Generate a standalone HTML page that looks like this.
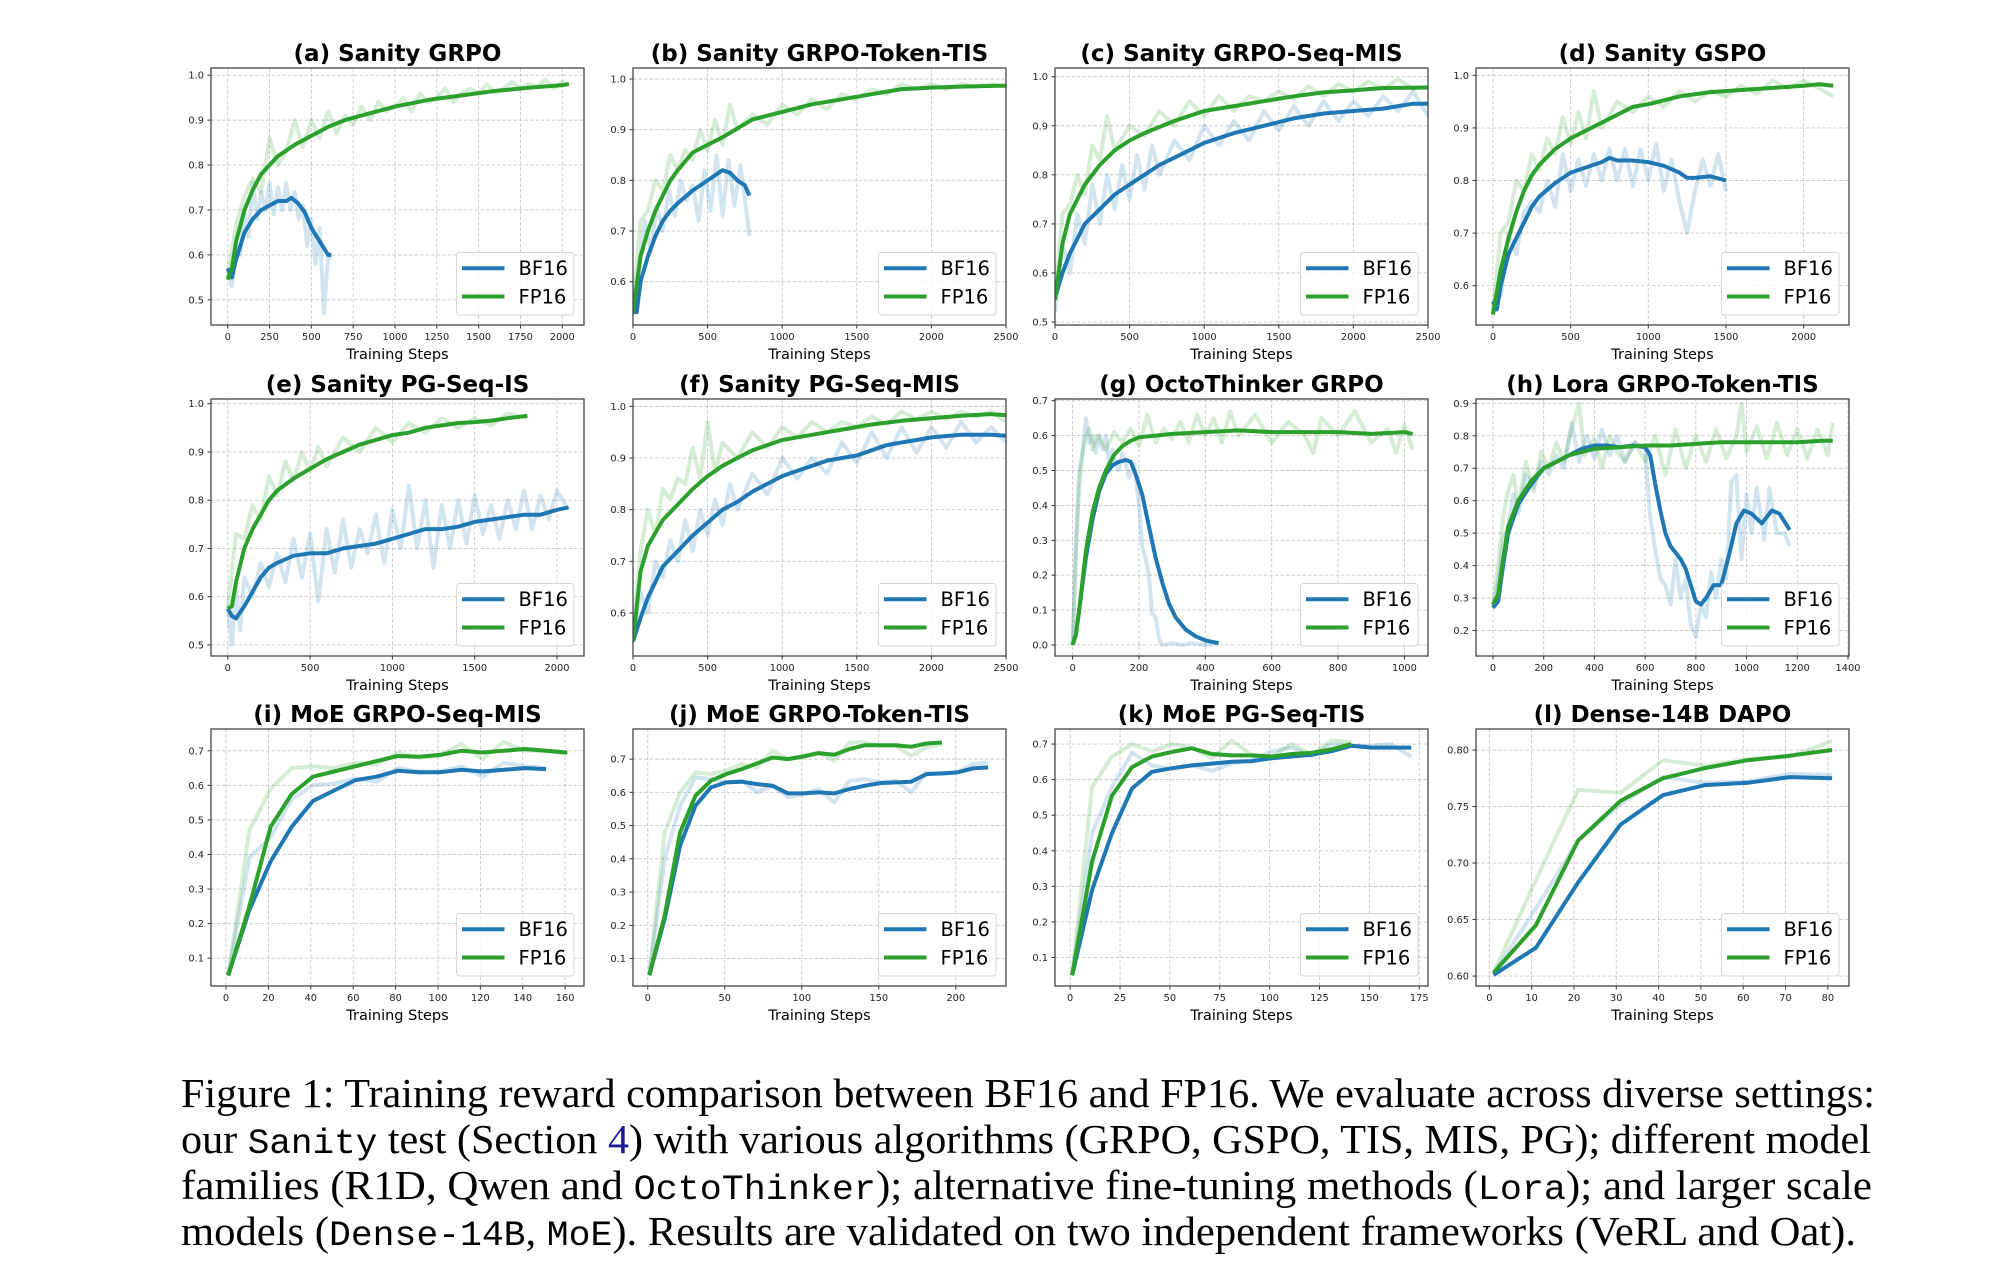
<!DOCTYPE html>
<html><head><meta charset="utf-8"><style>
html,body{margin:0;padding:0;background:#fff;}
svg{display:block;}
</style></head><body>
<svg id="fig" width="2014" height="1276" viewBox="0 0 2014 1276" xmlns="http://www.w3.org/2000/svg">
<g id="charts"></g>
<g id="caption" font-family="'Liberation Serif', serif" font-size="41" fill="#000">
<text x="181" y="1107" textLength="1694" lengthAdjust="spacingAndGlyphs">Figure 1: Training reward comparison between BF16 and FP16. We evaluate across diverse settings:</text>
<text x="181" y="1153" textLength="1690" lengthAdjust="spacingAndGlyphs">our <tspan font-family="'Liberation Mono', monospace" font-size="35">Sanity</tspan> test (Section <tspan fill="#1a1a99">4</tspan>) with various algorithms (GRPO, GSPO, TIS, MIS, PG); different model</text>
<text x="181" y="1199" textLength="1691" lengthAdjust="spacingAndGlyphs">families (R1D, Qwen and <tspan font-family="'Liberation Mono', monospace" font-size="35">OctoThinker</tspan>); alternative fine-tuning methods (<tspan font-family="'Liberation Mono', monospace" font-size="35">Lora</tspan>); and larger scale</text>
<text x="181" y="1245" textLength="1675" lengthAdjust="spacingAndGlyphs">models (<tspan font-family="'Liberation Mono', monospace" font-size="35">Dense-14B</tspan>, <tspan font-family="'Liberation Mono', monospace" font-size="35">MoE</tspan>). Results are validated on two independent frameworks (VeRL and Oat).</text>
</g>
</svg>
<script>
// ---------- DATA ----------
const a_bf_x=[0,25,50,100,150,200,250,300,350,380,420,460,500,550,600,620];
const a_bf_y=[.57,.55,.59,.65,.68,.70,.71,.72,.72,.727,.715,.695,.66,.63,.60,.60];
const a_bfr_x=[0,25,50,75,100,125,150,175,200,225,250,275,300,325,350,375,400,425,450,475,500,525,550,575,600,615];
const a_bfr_y=[.57,.53,.62,.60,.70,.64,.76,.68,.74,.70,.76,.69,.75,.70,.76,.70,.74,.68,.71,.62,.68,.58,.66,.47,.60,.59];
const a_fp_x=[0,25,50,100,150,200,250,300,400,500,600,700,800,900,1000,1200,1400,1600,1800,2000,2040];
const a_fp_y=[.545,.57,.63,.70,.745,.78,.80,.82,.845,.865,.885,.90,.91,.92,.93,.945,.955,.965,.972,.978,.98];
const a_fpr_x=[0,50,100,150,200,250,300,350,400,450,500,550,600,650,700,750,800,850,900,950,1000,1050,1100,1150,1200,1250,1300,1350,1400,1450,1500,1550,1600,1650,1700,1750,1800,1850,1900,1950,2000,2040];
const a_fpr_y=[.55,.67,.73,.77,.74,.86,.80,.83,.90,.84,.90,.86,.92,.87,.91,.89,.93,.90,.94,.92,.93,.95,.92,.96,.94,.95,.97,.94,.96,.97,.96,.98,.96,.97,.985,.97,.98,.975,.99,.97,.985,.98];

const b_bf_x=[0,25,50,100,150,200,250,300,400,500,600,650,700,750,780];
const b_bf_y=[.54,.54,.60,.65,.69,.72,.74,.755,.78,.80,.82,.815,.80,.79,.77];
const b_bfr_x=[0,40,80,120,160,200,240,280,320,360,400,440,480,520,560,600,640,680,720,760,780];
const b_bfr_y=[.55,.62,.72,.66,.75,.70,.78,.73,.80,.76,.79,.72,.82,.74,.85,.73,.84,.75,.83,.74,.69];
const b_fp_x=[0,50,100,150,200,250,300,400,500,600,800,1000,1200,1400,1600,1800,2000,2200,2500];
const b_fp_y=[.54,.65,.70,.74,.77,.80,.82,.855,.87,.885,.92,.935,.95,.96,.97,.98,.983,.985,.987];
const b_fpr_x=[0,50,100,150,200,250,300,350,400,450,500,550,600,650,700,800,900,1000,1100,1200,1300,1400,1500,1600,1700,1800,1900,2000,2100,2200,2300,2400,2500];
const b_fpr_y=[.55,.72,.74,.80,.78,.85,.82,.86,.84,.90,.86,.92,.87,.95,.90,.93,.91,.95,.93,.96,.94,.97,.96,.98,.97,.99,.98,.99,.98,.99,.985,.99,.985];

const c_bf_x=[0,50,100,150,200,300,400,500,600,700,800,900,1000,1200,1400,1600,1800,2000,2200,2400,2500];
const c_bf_y=[.55,.60,.64,.67,.70,.73,.76,.78,.80,.82,.835,.85,.865,.885,.90,.915,.925,.93,.935,.945,.945];
const c_bfr_x=[0,50,100,150,200,250,300,350,400,450,500,550,600,650,700,800,900,1000,1100,1200,1300,1400,1500,1600,1700,1800,1900,2000,2100,2200,2300,2400,2500];
const c_bfr_y=[.52,.66,.60,.72,.66,.78,.70,.80,.73,.82,.75,.84,.77,.86,.80,.87,.83,.90,.86,.91,.87,.93,.89,.94,.90,.95,.91,.95,.92,.96,.93,.97,.92];
const c_fp_x=[0,50,100,200,300,400,500,600,800,1000,1200,1400,1600,1800,2000,2200,2500];
const c_fp_y=[.545,.66,.72,.78,.82,.85,.87,.885,.91,.93,.94,.95,.96,.968,.972,.977,.978];
const c_fpr_x=[0,50,100,150,200,250,300,350,400,500,600,700,800,900,1000,1100,1200,1300,1400,1500,1600,1700,1800,1900,2000,2100,2200,2300,2400,2500];
const c_fpr_y=[.55,.72,.74,.80,.76,.86,.83,.92,.85,.90,.88,.93,.90,.95,.92,.96,.93,.96,.95,.97,.955,.98,.96,.985,.97,.99,.975,.995,.975,.98];

const d_bf_x=[0,25,50,100,150,200,250,300,400,500,600,700,750,800,900,1000,1100,1200,1250,1300,1400,1500];
const d_bf_y=[.57,.555,.60,.66,.69,.72,.75,.77,.795,.815,.825,.835,.843,.838,.838,.835,.828,.815,.805,.805,.808,.80];
const d_bfr_x=[0,50,100,150,200,250,300,350,400,450,500,550,600,650,700,750,800,850,900,950,1000,1050,1100,1150,1200,1250,1300,1350,1400,1450,1500];
const d_bfr_y=[.57,.58,.70,.66,.74,.76,.74,.80,.75,.85,.78,.84,.79,.85,.80,.86,.80,.86,.79,.86,.80,.87,.78,.84,.76,.70,.78,.84,.79,.85,.78];
const d_fp_x=[0,50,100,150,200,250,300,400,500,600,700,800,900,1000,1200,1400,1600,1800,2000,2100,2190];
const d_fp_y=[.545,.63,.69,.74,.78,.81,.83,.86,.88,.895,.91,.925,.94,.945,.96,.968,.972,.976,.98,.983,.98];
const d_fpr_x=[0,50,100,150,200,250,300,350,400,450,500,550,600,650,700,800,900,1000,1100,1200,1300,1400,1500,1600,1700,1800,1900,2000,2100,2190];
const d_fpr_y=[.55,.70,.72,.80,.78,.85,.82,.88,.85,.92,.87,.93,.88,.97,.90,.95,.93,.96,.94,.97,.95,.97,.96,.98,.965,.99,.975,.99,.975,.96];

const e_bf_x=[0,25,50,100,150,200,250,300,400,500,600,700,800,900,1000,1100,1200,1300,1400,1500,1600,1700,1800,1900,2000,2070];
const e_bf_y=[.575,.56,.555,.58,.61,.64,.66,.67,.685,.69,.69,.70,.705,.71,.72,.73,.74,.74,.745,.755,.76,.765,.77,.77,.78,.785];
const e_bfr_x=[0,25,50,75,100,150,200,250,300,350,400,450,500,550,600,650,700,750,800,850,900,950,1000,1050,1100,1150,1200,1250,1300,1350,1400,1450,1500,1550,1600,1650,1700,1750,1800,1850,1900,1950,2000,2070];
const e_bfr_y=[.58,.50,.62,.53,.64,.60,.67,.62,.69,.63,.72,.64,.73,.59,.74,.65,.76,.66,.74,.69,.77,.67,.78,.70,.83,.70,.80,.66,.79,.70,.80,.71,.81,.73,.79,.72,.80,.74,.82,.74,.81,.76,.82,.78];
const e_fp_x=[0,25,50,100,150,200,250,300,400,500,600,700,800,900,1000,1100,1200,1300,1400,1500,1600,1700,1820];
const e_fp_y=[.575,.58,.63,.70,.74,.77,.80,.82,.845,.865,.885,.90,.915,.925,.935,.94,.95,.955,.96,.962,.965,.97,.975];
const e_fpr_x=[0,50,100,150,200,250,300,350,400,450,500,550,600,700,800,900,1000,1100,1200,1300,1400,1500,1600,1700,1820];
const e_fpr_y=[.58,.73,.72,.79,.76,.85,.81,.88,.84,.90,.86,.91,.87,.93,.90,.95,.92,.96,.94,.97,.95,.97,.955,.98,.97];

const f_bf_x=[0,50,100,150,200,300,400,500,600,700,800,900,1000,1100,1200,1300,1400,1500,1600,1700,1800,1900,2000,2200,2400,2500];
const f_bf_y=[.545,.59,.63,.66,.69,.72,.75,.775,.80,.815,.835,.85,.865,.875,.885,.895,.90,.905,.915,.925,.93,.935,.94,.945,.945,.943];
const f_bfr_x=[0,50,100,150,200,250,300,350,400,450,500,550,600,650,700,800,900,1000,1100,1200,1300,1400,1500,1600,1700,1800,1900,2000,2100,2200,2300,2400,2500];
const f_bfr_y=[.55,.64,.60,.70,.67,.74,.70,.78,.72,.80,.75,.82,.77,.85,.80,.87,.83,.90,.86,.90,.87,.93,.89,.95,.90,.96,.91,.96,.92,.97,.93,.96,.93];
const f_fp_x=[0,50,100,200,300,400,500,600,700,800,900,1000,1200,1400,1600,1800,2000,2200,2400,2500];
const f_fp_y=[.545,.68,.73,.78,.81,.84,.865,.885,.90,.915,.925,.935,.945,.955,.965,.972,.977,.982,.985,.983];
const f_fpr_x=[0,50,100,150,200,250,300,350,400,450,500,550,600,700,800,900,1000,1100,1200,1300,1400,1500,1600,1700,1800,1900,2000,2100,2200,2300,2400,2500];
const f_fpr_y=[.56,.72,.80,.75,.84,.82,.86,.85,.92,.86,.97,.87,.93,.90,.95,.92,.96,.94,.97,.95,.97,.96,.98,.965,.99,.975,.99,.975,.99,.98,.99,.97];

const g_bf_x=[0,10,20,40,60,80,100,120,140,160,175,190,210,230,250,270,290,310,340,370,400,440];
const g_bf_y=[0,.03,.10,.25,.36,.44,.49,.515,.525,.53,.525,.49,.43,.34,.25,.18,.12,.08,.045,.025,.013,.005];
const g_bfr_x=[0,10,20,30,40,50,60,70,80,90,100,110,120,130,140,150,160,170,185,200,210,220,230,240,250,260,270,300,330,360,400,440];
const g_bfr_y=[0,.3,.5,.55,.65,.58,.60,.55,.60,.56,.60,.52,.56,.52,.50,.55,.52,.48,.52,.40,.28,.25,.20,.09,.08,.02,0,.005,0,.005,0,.005];
const g_fp_x=[0,10,20,40,60,80,100,125,150,175,200,250,300,400,500,600,700,800,900,1000,1025];
const g_fp_y=[0,.03,.10,.27,.38,.45,.50,.545,.57,.585,.595,.60,.605,.61,.615,.61,.61,.61,.605,.61,.605];
const g_fpr_x=[0,10,20,30,40,50,60,75,100,125,150,175,200,225,250,275,300,325,350,375,400,425,450,475,500,550,600,650,700,725,750,800,850,900,950,975,1000,1025];
const g_fpr_y=[0,.25,.45,.55,.60,.62,.56,.60,.56,.61,.58,.62,.57,.66,.58,.62,.59,.64,.58,.66,.60,.65,.58,.67,.60,.66,.58,.64,.60,.55,.65,.60,.67,.58,.62,.55,.63,.56];

const h_bf_x=[0,20,40,60,100,150,200,250,300,350,400,450,500,550,600,620,640,660,680,700,720,740,760,780,800,820,840,870,900,930,960,990,1020,1060,1100,1130,1170];
const h_bf_y=[.27,.29,.40,.50,.59,.65,.70,.72,.74,.76,.77,.77,.765,.77,.765,.74,.65,.57,.50,.46,.44,.42,.39,.34,.29,.28,.30,.34,.34,.43,.53,.57,.56,.53,.57,.56,.51];
const h_bfr_x=[0,20,40,60,80,100,130,160,190,220,250,280,310,340,370,400,430,460,490,520,560,600,620,640,660,680,700,720,740,760,780,800,820,840,860,880,900,920,940,960,980,1000,1020,1040,1070,1090,1120,1150,1170];
const h_bfr_y=[.27,.35,.48,.52,.62,.56,.68,.64,.72,.68,.74,.70,.84,.72,.80,.73,.82,.74,.80,.72,.78,.76,.55,.45,.36,.34,.28,.42,.30,.36,.22,.18,.28,.24,.38,.30,.42,.36,.66,.68,.42,.62,.50,.64,.48,.64,.50,.50,.46];
const h_fp_x=[0,20,40,60,100,150,200,250,300,350,400,500,600,700,800,900,1000,1100,1200,1300,1340];
const h_fp_y=[.28,.31,.42,.52,.60,.66,.70,.72,.74,.75,.76,.765,.77,.77,.775,.78,.78,.78,.78,.785,.785];
const h_fpr_x=[0,20,40,60,80,100,130,160,190,220,250,280,310,340,360,400,430,460,490,520,560,600,640,680,720,760,800,840,880,920,960,980,1000,1040,1080,1120,1160,1200,1240,1280,1320,1340];
const h_fpr_y=[.28,.40,.55,.63,.68,.58,.72,.63,.75,.70,.78,.72,.82,.90,.74,.79,.70,.80,.75,.72,.78,.72,.80,.68,.82,.70,.80,.72,.82,.73,.80,.90,.75,.83,.73,.84,.74,.82,.73,.82,.74,.84];

const i_x=[1,11,21,31,41,51,61,71,81,91,101,111,121,131,141,151,161];
const i_bf_y=[.05,.24,.38,.48,.555,.585,.615,.625,.642,.638,.638,.645,.64,.645,.65,.647];
const i_bfr_y=[.05,.39,.45,.56,.60,.605,.62,.61,.65,.64,.64,.655,.625,.665,.655,.65];
const i_fp_y=[.05,.25,.48,.575,.625,.64,.655,.67,.685,.683,.688,.70,.695,.70,.705,.70,.695];
const i_fpr_y=[.05,.47,.59,.65,.655,.65,.665,.66,.695,.68,.685,.72,.675,.725,.70,.70,.69];

const j_x=[1,11,21,31,41,51,61,71,81,91,101,111,121,131,141,151,161,171,181,191,201,211,221];
const j_bf_y=[.05,.22,.44,.56,.615,.63,.632,.625,.62,.597,.597,.60,.597,.61,.62,.628,.63,.632,.655,.657,.66,.672,.675];
const j_bfr_y=[.05,.40,.56,.645,.64,.63,.635,.60,.62,.585,.595,.61,.57,.635,.64,.63,.635,.60,.66,.655,.66,.685,.69];
const j_fp_y=[.05,.23,.48,.59,.635,.655,.67,.687,.705,.70,.708,.718,.713,.73,.742,.742,.742,.737,.747,.75];
const j_fpr_y=[.05,.48,.60,.66,.655,.665,.685,.675,.725,.70,.71,.72,.695,.75,.75,.74,.74,.71,.735,.745];

const k_x=[1,11,21,31,41,51,61,71,81,91,101,111,121,131,141,151,161,171];
const k_bf_y=[.05,.29,.45,.575,.622,.632,.64,.645,.65,.652,.66,.665,.67,.68,.695,.69,.69,.69];
const k_bfr_y=[.05,.45,.58,.675,.64,.63,.64,.625,.645,.655,.68,.69,.665,.70,.695,.695,.70,.665];
const k_fp_y=[.05,.37,.555,.635,.665,.678,.688,.672,.668,.668,.665,.672,.675,.685,.70];
const k_fpr_y=[.05,.58,.665,.70,.68,.70,.69,.66,.71,.67,.665,.70,.67,.71,.705];

const l_x=[1,11,21,31,41,51,61,71,81];
const l_bf_y=[.601,.625,.683,.734,.760,.769,.771,.776,.775];
const l_bfr_y=[.602,.66,.72,.752,.776,.771,.772,.779,.778];
const l_fp_y=[.603,.645,.72,.755,.775,.784,.791,.795,.80];
const l_fpr_y=[.603,.685,.765,.762,.791,.786,.792,.794,.808];

const titles=["(a) Sanity GRPO","(b) Sanity GRPO-Token-TIS","(c) Sanity GRPO-Seq-MIS","(d) Sanity GSPO","(e) Sanity PG-Seq-IS","(f) Sanity PG-Seq-MIS","(g) OctoThinker GRPO","(h) Lora GRPO-Token-TIS","(i) MoE GRPO-Seq-MIS","(j) MoE GRPO-Token-TIS","(k) MoE PG-Seq-TIS","(l) Dense-14B DAPO"];
const xTicks=[[0,250,500,750,1000,1250,1500,1750,2000],[0,500,1000,1500,2000,2500],[0,500,1000,1500,2000,2500],[0,500,1000,1500,2000],[0,500,1000,1500,2000],[0,500,1000,1500,2000,2500],[0,200,400,600,800,1000],[0,200,400,600,800,1000,1200,1400],[0,20,40,60,80,100,120,140,160],[0,50,100,150,200],[0,25,50,75,100,125,150,175],[0,10,20,30,40,50,60,70,80]];
const yTicks=[[.5,.6,.7,.8,.9,1.0],[.6,.7,.8,.9,1.0],[.5,.6,.7,.8,.9,1.0],[.6,.7,.8,.9,1.0],[.5,.6,.7,.8,.9,1.0],[.6,.7,.8,.9,1.0],[0,.1,.2,.3,.4,.5,.6,.7],[.2,.3,.4,.5,.6,.7,.8,.9],[.1,.2,.3,.4,.5,.6,.7],[.1,.2,.3,.4,.5,.6,.7],[.1,.2,.3,.4,.5,.6,.7],[.60,.65,.70,.75,.80]];
const xDomains=[[-100,2130],[0,2500],[0,2500],[-109,2292],[-102,2164],[0,2500],[-53,1071],[-67,1404],[-7.1,168.9],[-9.6,232.6],[-7.6,179.4],[-3.15,85]];
const yDomains=[[.444,1.016],[.5146,1.0217],[.494,1.0177],[.5253,1.0139],[.477,1.0098],[.5167,1.0143],[-.0316,.7049],[.1214,.9134],[.0195,.763],[.0175,.7906],[.020,.7423],[.5912,.8186]];
const series=[
 {bfr:[a_bfr_x,a_bfr_y],fpr:[a_fpr_x,a_fpr_y],bf:[a_bf_x,a_bf_y],fp:[a_fp_x,a_fp_y]},
 {bfr:[b_bfr_x,b_bfr_y],fpr:[b_fpr_x,b_fpr_y],bf:[b_bf_x,b_bf_y],fp:[b_fp_x,b_fp_y]},
 {bfr:[c_bfr_x,c_bfr_y],fpr:[c_fpr_x,c_fpr_y],bf:[c_bf_x,c_bf_y],fp:[c_fp_x,c_fp_y]},
 {bfr:[d_bfr_x,d_bfr_y],fpr:[d_fpr_x,d_fpr_y],bf:[d_bf_x,d_bf_y],fp:[d_fp_x,d_fp_y]},
 {bfr:[e_bfr_x,e_bfr_y],fpr:[e_fpr_x,e_fpr_y],bf:[e_bf_x,e_bf_y],fp:[e_fp_x,e_fp_y]},
 {bfr:[f_bfr_x,f_bfr_y],fpr:[f_fpr_x,f_fpr_y],bf:[f_bf_x,f_bf_y],fp:[f_fp_x,f_fp_y]},
 {bfr:[g_bfr_x,g_bfr_y],fpr:[g_fpr_x,g_fpr_y],bf:[g_bf_x,g_bf_y],fp:[g_fp_x,g_fp_y]},
 {bfr:[h_bfr_x,h_bfr_y],fpr:[h_fpr_x,h_fpr_y],bf:[h_bf_x,h_bf_y],fp:[h_fp_x,h_fp_y]},
 {bfr:[i_x,i_bfr_y],fpr:[i_x,i_fpr_y],bf:[i_x,i_bf_y],fp:[i_x,i_fp_y]},
 {bfr:[j_x,j_bfr_y],fpr:[j_x,j_fpr_y],bf:[j_x,j_bf_y],fp:[j_x,j_fp_y]},
 {bfr:[k_x,k_bfr_y],fpr:[k_x,k_fpr_y],bf:[k_x,k_bf_y],fp:[k_x,k_fp_y]},
 {bfr:[l_x,l_bfr_y],fpr:[l_x,l_fpr_y],bf:[l_x,l_bf_y],fp:[l_x,l_fp_y]}
];

// ---------- RENDER ----------
const NS="http://www.w3.org/2000/svg";
const root=document.getElementById('charts');
const colLeft=[211,633,1055,1476], rowTop=[68,399,729], AW=373, AH=257;
const BLUE="#1f77b4", GREEN="#2ca02c";
function mk(tag,attrs,parent){const e=document.createElementNS(NS,tag);for(const k in attrs)e.setAttribute(k,attrs[k]);parent.appendChild(e);return e;}
function fmtY(v,i){return i===11?v.toFixed(2):v.toFixed(1);}
const letters="abcdefghijkl";
for(let i=0;i<12;i++){
  const L=colLeft[i%4], T=rowTop[Math.floor(i/4)], R=L+AW, B=T+AH;
  const xd=xDomains[i], yd=yDomains[i];
  const sx=v=>L+(v-xd[0])/(xd[1]-xd[0])*AW;
  const sy=v=>B-(v-yd[0])/(yd[1]-yd[0])*AH;
  const g=mk('g',{},root);
  
  
  const clipId='clip'+i;
  const cp=mk('clipPath',{id:clipId},g); mk('rect',{x:L,y:T,width:AW,height:AH},cp);
  xTicks[i].forEach(t=>{const x=sx(t);
    const gl=mk('line',{x1:x,x2:x,y1:T,y2:B,stroke:'#c8c8c8','stroke-width':0.9,'stroke-dasharray':'3.5,2'},g);
    
    
    mk('line',{x1:x,x2:x,y1:B,y2:B+3.5,stroke:'#333','stroke-width':1},g);
    const tx=mk('text',{x:x,y:B+15,'text-anchor':'middle','font-family':'"DejaVu Sans",sans-serif','font-size':9.8,fill:'#222'},g);
    tx.textContent=String(t);
    
    
  });
  yTicks[i].forEach(t=>{const y=sy(t);
    const gl=mk('line',{x1:L,x2:R,y1:y,y2:y,stroke:'#c8c8c8','stroke-width':0.9,'stroke-dasharray':'3.5,2'},g);
    
    
    mk('line',{x1:L-3.5,x2:L,y1:y,y2:y,stroke:'#333','stroke-width':1},g);
    const tx=mk('text',{x:L-7,y:y+3.5,'text-anchor':'end','font-family':'"DejaVu Sans",sans-serif','font-size':9.8,fill:'#222'},g);
    tx.textContent=fmtY(t,i);
    
    
  });
  const S=series[i];
  const pts=(xs,ys)=>ys.map((v,k)=>sx(xs[k]).toFixed(1)+','+sy(v).toFixed(1)).join(' ');
  const lines=[['bfr',BLUE,4,0.2,'bf16-raw-line'],['fpr',GREEN,4,0.2,'fp16-raw-line'],['bf',BLUE,4,1,'bf16-smoothed-line'],['fp',GREEN,4,1,'fp16-smoothed-line']];
  lines.forEach(([key,col,w,op,nm])=>{
    const p=mk('polyline',{points:pts(S[key][0],S[key][1]),fill:'none',stroke:col,'stroke-width':w,'stroke-opacity':op,'stroke-linejoin':'round','clip-path':'url(#'+clipId+')'},g);
    
    
  });
  const fr=mk('rect',{x:L,y:T,width:AW,height:AH,fill:'none',stroke:'#444','stroke-width':1.3},g);
  
  
  const ti=mk('text',{x:L+AW/2,y:T-7,'text-anchor':'middle','font-family':'"DejaVu Sans",sans-serif','font-weight':'bold','font-size':23,fill:'#000'},g);
  ti.textContent=titles[i];
  
  
  const xl=mk('text',{x:L+AW/2,y:B+34,'text-anchor':'middle','font-family':'"DejaVu Sans",sans-serif','font-size':14.5,fill:'#000'},g);
  xl.textContent='Training Steps';
  
  
  const lg=mk('g',{},g);
  
  
  const lx=R-127.5, ly=B-72.5;
  mk('rect',{x:lx,y:ly,width:117.5,height:62.5,rx:3,fill:'#fff','fill-opacity':0.8,stroke:'#d6d6d6','stroke-width':1},lg);
  [['BF16',BLUE,15.7],['FP16',GREEN,44]].forEach(([lab,col,dy])=>{
    const e=mk('g',{},lg);
    
    
    mk('line',{x1:lx+5.5,x2:lx+48,y1:ly+dy,y2:ly+dy,stroke:col,'stroke-width':4},e);
    const t=mk('text',{x:lx+62,y:ly+dy+7,'font-family':'"DejaVu Sans",sans-serif','font-size':19.5,fill:'#000'},e);
    t.textContent=lab;
  });
}
</script>
</body></html>
